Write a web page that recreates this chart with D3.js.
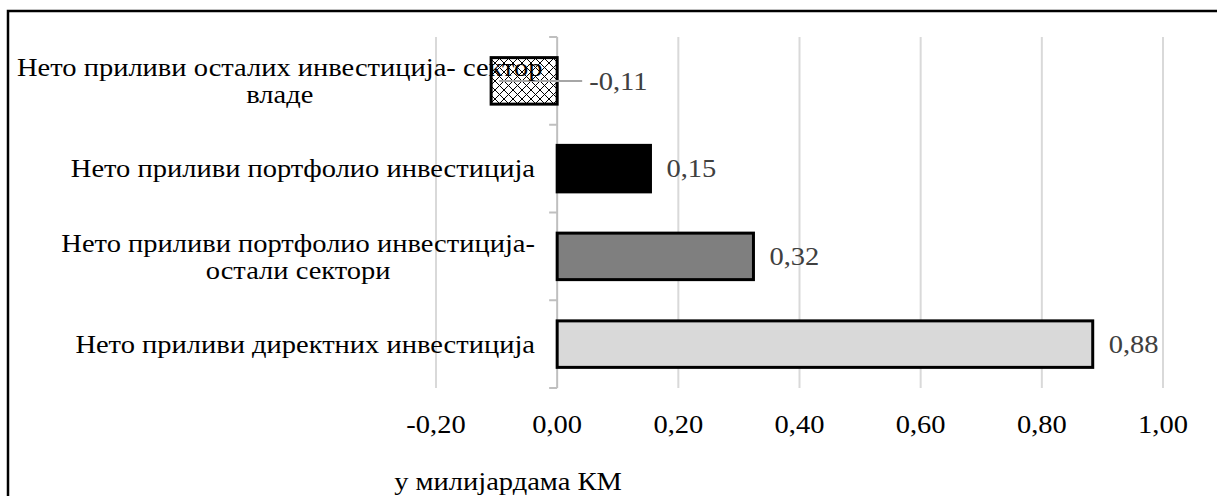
<!DOCTYPE html>
<meta charset="utf-8">
<style>
	body {
		margin: 0;
		padding: 0;
		background: #ffffff;
	}
	.grid line {
		stroke: #d9d9d9;
		stroke-width: 2px;
	}
	.bar {
		stroke: #000000;
		stroke-width: 3px;
	}
</style>
<body>
<svg class="chart"></svg>
</body>
<script src="https://cdnjs.cloudflare.com/ajax/libs/d3/7.8.5/d3.min.js"></script>
<script>

// data, top to bottom
var categories = [
	["Нето приливи осталих инвестиција- сектор", "владе"],
	["Нето приливи портфолио инвестиција"],
	["Нето приливи портфолио инвестиција-", "остали сектори"],
	["Нето приливи директних инвестиција"]
];
var values = [-0.109, 0.154, 0.324, 0.884];
var fills = ["url(#hatch)", "#000000", "#7f7f7f", "#d9d9d9"];
var xTicks = [-0.2, 0, 0.2, 0.4, 0.6, 0.8, 1.0];
var axisTitle = "у милијардама КМ";

var W = 1217, H = 496;
var margin = {top: 37, right: 54, bottom: 108, left: 436};
var FONT = "'Liberation Serif'", FS = 25, SX = 1.14;

var svg = d3.select(".chart")
	.attr("width", W)
	.attr("height", H);

// text is a bit wider than tall in the original picture
function label(parent, x, y, str, anchor, color) {
	return parent.append("text")
		.attr("transform", "translate(" + x + "," + y + ") scale(" + SX + ",1)")
		.attr("dy", "0.35em")
		.attr("text-anchor", anchor)
		.style("font-family", FONT)
		.style("font-size", FS + "px")
		.attr("fill", color || "#000000")
		.text(str);
}

var defs = svg.append("defs");
var pat = defs.append("pattern")
	.attr("id", "hatch")
	.attr("patternUnits", "userSpaceOnUse")
	.attr("width", 9)
	.attr("height", 9);
pat.append("rect").attr("width", 9).attr("height", 9).attr("fill", "#ffffff");
pat.append("path")
	.attr("d", "M0,0 L9,9 M9,0 L0,9")
	.attr("stroke", "#000000")
	.attr("stroke-width", 1)
	.attr("fill", "none");

// outer frame
svg.append("rect")
	.attr("x", 8)
	.attr("y", 11)
	.attr("width", W + 20)
	.attr("height", H + 20)
	.attr("fill", "none")
	.attr("stroke", "#000000")
	.attr("stroke-width", 2.5);

var x = d3.scaleLinear()
	.domain([-0.2, 1.0])
	.range([margin.left, W - margin.right]);

var y = d3.scaleBand()
	.domain(d3.range(categories.length))
	.range([margin.top, H - margin.bottom])
	.paddingInner(0.47)
	.paddingOuter(0.235);

var fmt = function (v) { return v.toFixed(2).replace(".", ","); };

// gridlines
svg.append("g")
	.attr("class", "grid")
	.selectAll("line")
	.data(xTicks.filter(function (d) { return d !== 0; }))
	.enter().append("line")
	.attr("x1", function (d) { return x(d); })
	.attr("x2", function (d) { return x(d); })
	.attr("y1", margin.top)
	.attr("y2", H - margin.bottom);

// tick labels
var tickG = svg.append("g");
xTicks.forEach(function (d) {
	label(tickG, x(d), 424, fmt(d), "middle");
});

// category axis at zero
var bounds = d3.range(categories.length + 1).map(function (i) {
	return margin.top + (H - margin.top - margin.bottom) * i / categories.length;
});
var axisG = svg.append("g");
axisG.append("line")
	.attr("x1", x(0)).attr("x2", x(0))
	.attr("y1", margin.top).attr("y2", H - margin.bottom)
	.attr("stroke", "#bfbfbf").attr("stroke-width", 2);
axisG.selectAll(".tk")
	.data(bounds)
	.enter().append("line")
	.attr("x1", x(0) - 8).attr("x2", x(0))
	.attr("y1", function (d) { return d; })
	.attr("y2", function (d) { return d; })
	.attr("stroke", "#bfbfbf").attr("stroke-width", 2);

// bars
svg.append("g")
	.selectAll("rect")
	.data(values)
	.enter().append("rect")
	.attr("class", "bar")
	.attr("x", function (d) { return x(Math.min(0, d)); })
	.attr("y", function (d, i) { return y(i); })
	.attr("width", function (d) { return Math.abs(x(d) - x(0)); })
	.attr("height", y.bandwidth())
	.attr("fill", function (d, i) { return fills[i]; });

// value labels
var valG = svg.append("g");
values.forEach(function (v, i) {
	var cy = y(i) + y.bandwidth() / 2;
	var lx = v >= 0 ? x(v) + 16 : x(0) + 32;
	if (v < 0) {
		valG.append("line")
			.attr("x1", x(v / 2) - 25).attr("x2", lx - 7)
			.attr("y1", cy).attr("y2", cy)
			.attr("stroke", "#a6a6a6").attr("stroke-width", 2);
	}
	label(valG, lx, cy, fmt(v), "start", "#404040");
});

// category labels (drawn over the bars, as in the original)
var labelRight = 535, labelMinLeft = 17, lineH = 27;
var cat = svg.append("g");
categories.forEach(function (lines, i) {
	var cy = y(i) + y.bandwidth() / 2;
	var ts = lines.map(function (t, j) {
		return label(cat, 0, 0, t, "middle");
	});
	var wMax = d3.max(ts, function (t) { return t.node().getComputedTextLength(); }) * SX;
	var cx = lines.length > 1 ? Math.max(labelRight - wMax / 2, labelMinLeft + wMax / 2) : labelRight - wMax / 2;
	ts.forEach(function (t, j) {
		var ty = cy + (j - (lines.length - 1) / 2) * lineH;
		t.attr("transform", "translate(" + cx + "," + ty + ") scale(" + SX + ",1)");
	});
});

// axis title
label(svg, 508, 481, axisTitle, "middle");

</script>
